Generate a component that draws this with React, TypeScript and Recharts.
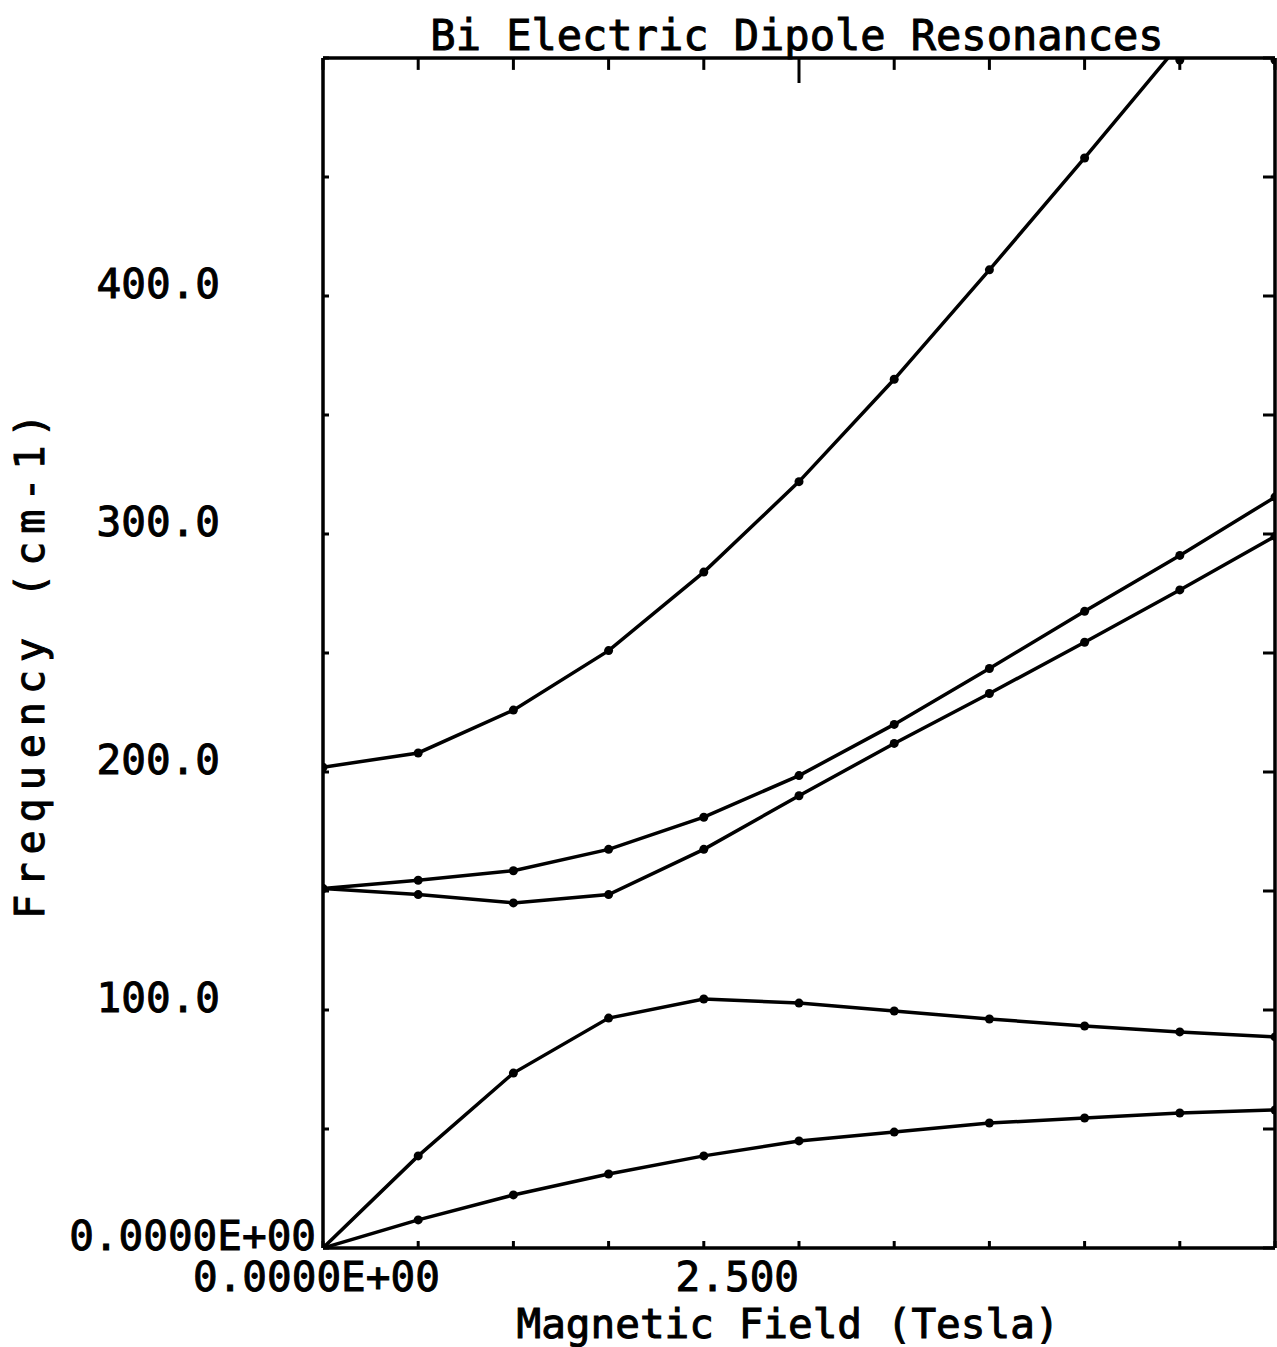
import React from 'react';
import { LineChart, Line, XAxis, YAxis, Label, ReferenceLine } from 'recharts';

const fieldTesla = [0, 0.5, 1, 1.5, 2, 2.5, 3, 3.5, 4, 4.5, 5];
const branch1 = [202, 208, 226, 251, 284, 322, 365, 411, 458, 506, 555];
const branch2 = [151, 154.5, 158.5, 167.5, 181, 198.5, 220, 243.5, 267.5, 291, 315.5];
const branch3 = [151, 148.5, 145, 148.5, 167.5, 190, 212, 233, 254.5, 276.5, 299];
const branch4 = [0, 38.7, 73.5, 96.6, 104.6, 102.9, 99.6, 96.2, 93.3, 90.8, 88.7];
const branch5 = [0, 11.8, 22.3, 31.1, 38.7, 45, 48.7, 52.5, 54.6, 56.7, 58];

const xTicks = [0, 0.5, 1, 1.5, 2, 2.5, 3, 3.5, 4, 4.5, 5];
const yTicks = [0, 50, 100, 150, 200, 250, 300, 350, 400, 450, 500];
const xTickLabels: Record<string, string> = { '0': '0.0000E+00', '2.5': '2.500' };
const yTickLabels: Record<string, string> = {
  '0': '0.0000E+00',
  '100': '100.0',
  '200': '200.0',
  '300': '300.0',
  '400': '400.0',
};

const TITLE = 'Bi Electric Dipole Resonances';
const X_LABEL = 'Magnetic Field (Tesla)';
const Y_LABEL = 'Frequency (cm-1)';

const data = fieldTesla.map((x, i) => ({
  x,
  b1: branch1[i],
  b2: branch2[i],
  b3: branch3[i],
  b4: branch4[i],
  b5: branch5[i],
}));

const FONT = '"DejaVu Sans Mono", monospace';
const PLOT_TOP = 58;
const Y_MAX = 500;
const AXIS_STYLE = { stroke: '#000', strokeWidth: 3.5 };

const BottomTick = (props: any) => {
  const { x, y, payload } = props;
  const v = payload.value;
  const label = xTickLabels[String(v)];
  let text = null;
  if (label) {
    const isZero = v === 0;
    text = (
      <text
        x={isZero ? x - 130 : x}
        y={y + 43}
        textAnchor={isZero ? 'start' : 'end'}
        fontFamily={FONT}
        fontSize={41}
        fill="#000"
        stroke="#000"
        strokeWidth={1}
      >
        {label}
      </text>
    );
  }
  return (
    <g>
      <line x1={x} y1={y} x2={x} y2={y - 7} stroke="#000" strokeWidth={3} />
      {text}
    </g>
  );
};

const LeftTick = (props: any) => {
  const { x, y, payload } = props;
  const v = payload.value;
  const label = yTickLabels[String(v)];
  let text = null;
  if (label) {
    const isZero = v === 0;
    text = (
      <text
        x={isZero ? x - 7 : x - 103}
        y={y + 2}
        textAnchor="end"
        fontFamily={FONT}
        fontSize={41}
        fill="#000"
        stroke="#000"
        strokeWidth={1}
      >
        {label}
      </text>
    );
  }
  return (
    <g>
      <line x1={x} y1={y} x2={x + 6} y2={y} stroke="#000" strokeWidth={3} />
      {text}
    </g>
  );
};

const RightTick = (props: any) => {
  const { x, y } = props;
  return <line x1={x} y1={y} x2={x - 12} y2={y} stroke="#000" strokeWidth={3} />;
};

const renderDot = (p: any) => {
  if (p.cx == null || p.cy == null) return <g key={p.key} />;
  return <circle key={p.key} cx={p.cx} cy={Math.max(p.cy, PLOT_TOP + 2)} r={4.5} fill="#000" stroke="none" />;
};

const series = ['b1', 'b2', 'b3', 'b4', 'b5'];

export default function App() {
  return (
    <div style={{ position: 'absolute', left: 0, top: 0, background: '#fff' }}>
      <LineChart
        width={1277}
        height={1347}
        data={data}
        margin={{ top: PLOT_TOP - 1, right: 1, bottom: 0, left: 0 }}
      >
        <XAxis
          dataKey="x"
          type="number"
          domain={[0, 5]}
          ticks={xTicks}
          interval={0}
          allowDataOverflow
          height={99}
          tickSize={0}
          tickMargin={0}
          tickLine={false}
          axisLine={AXIS_STYLE}
          tick={<BottomTick />}
        >
          <Label
            content={() => (
              <text
                x={788}
                y={1338}
                textAnchor="middle"
                fontFamily={FONT}
                fontSize={41}
                fill="#000"
                stroke="#000"
                strokeWidth={1}
              >
                {X_LABEL}
              </text>
            )}
          />
        </XAxis>
        <XAxis
          xAxisId="top"
          orientation="top"
          dataKey="x"
          type="number"
          domain={[0, 5]}
          ticks={xTicks}
          interval={0}
          allowDataOverflow
          height={1}
          tickSize={0}
          tickMargin={0}
          tickLine={false}
          axisLine={AXIS_STYLE}
          tick={false}
        >
          <Label
            content={() => (
              <text
                x={797}
                y={50}
                textAnchor="middle"
                fontFamily={FONT}
                fontSize={42}
                fill="#000"
                stroke="#000"
                strokeWidth={1}
              >
                {TITLE}
              </text>
            )}
          />
        </XAxis>
        <YAxis
          type="number"
          domain={[0, Y_MAX]}
          ticks={yTicks}
          interval={0}
          allowDataOverflow
          width={323}
          tickSize={0}
          tickMargin={0}
          tickLine={false}
          axisLine={AXIS_STYLE}
          tick={<LeftTick />}
        >
          <Label
            content={() => (
              <text
                x={44}
                y={662}
                textAnchor="middle"
                transform="rotate(-90 44 662)"
                fontFamily={FONT}
                fontSize={40}
                letterSpacing={8}
                fill="#000"
                stroke="#000"
                strokeWidth={1}
              >
                {Y_LABEL}
              </text>
            )}
          />
        </YAxis>
        <YAxis
          yAxisId="right"
          orientation="right"
          type="number"
          domain={[0, Y_MAX]}
          ticks={yTicks}
          interval={0}
          allowDataOverflow
          width={1}
          tickSize={0}
          tickMargin={0}
          tickLine={false}
          axisLine={AXIS_STYLE}
          tick={<RightTick />}
        />
        {xTicks.map((v) => (
          <ReferenceLine
            key={'tt' + v}
            segment={[
              { x: v, y: Y_MAX },
              { x: v, y: Y_MAX - (v === 2.5 ? 10.5 : 5) },
            ]}
            stroke="#000"
            strokeWidth={3}
            ifOverflow="visible"
          />
        ))}
        {series.map((k) => (
          <Line
            key={k}
            dataKey={k}
            type="linear"
            stroke="#000"
            strokeWidth={3.5}
            dot={renderDot}
            activeDot={false}
            isAnimationActive={false}
          />
        ))}
      </LineChart>
    </div>
  );
}
